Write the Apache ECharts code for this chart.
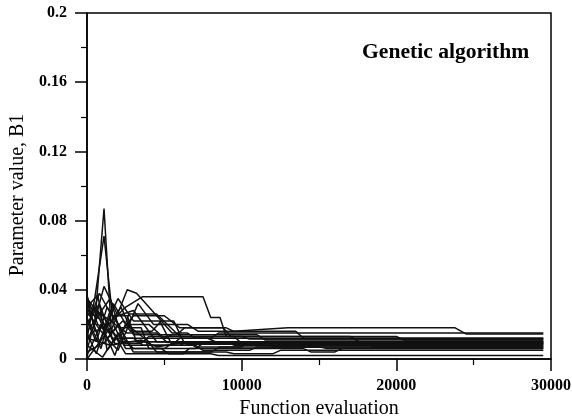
<!DOCTYPE html>
<html>
<head>
<meta charset="utf-8">
<script src="https://cdn.jsdelivr.net/npm/echarts@6/dist/echarts.min.js"></script>
<style>html,body{margin:0;padding:0;background:#fff}#c{width:572px;height:420px}</style>
</head>
<body>
<div id="c"></div>
<script>
var xTicks = [0, 10000, 20000, 30000];
var yTicks = [0, 0.04, 0.08, 0.12, 0.16, 0.2];
var titleText = 'Genetic algorithm';
var xName = 'Function evaluation';
var yName = 'Parameter value, B1';

var run1 = [[0,0.030],[500,0.020],[1100,0.087],[1600,0.012],[3000,0.012],[3600,0.008],[6000,0.008],[6600,0.010],[12000,0.010],[12500,0.008],[29500,0.008]];
var run2 = [[0,0.012],[500,0.035],[1100,0.071],[1700,0.020],[2500,0.006],[5000,0.006],[5500,0.009],[29500,0.009]];
var run3 = [[0,0.025],[600,0.030],[1200,0.018],[2500,0.030],[3600,0.036],[7500,0.036],[8000,0.024],[8600,0.024],[9000,0.013],[20000,0.013],[20500,0.011],[29500,0.011]];
var run4 = [[0,0.005],[1100,0.042],[2000,0.025],[3000,0.028],[4500,0.010],[29500,0.010]];
var run5 = [[0,0.036],[700,0.020],[1500,0.015],[2600,0.040],[3200,0.038],[4000,0.030],[5500,0.015],[6500,0.015],[7000,0.012],[29500,0.012]];
var run6 = [[0,0.020],[800,0.032],[1700,0.010],[3000,0.025],[5000,0.025],[6000,0.018],[9000,0.018],[9500,0.016],[13000,0.018],[23800,0.018],[24500,0.0145],[29500,0.0145]];
var run7 = [[0,0.030],[700,0.037],[1300,0.005],[2600,0.020],[4000,0.020],[5000,0.012],[8000,0.012],[8500,0.015],[29500,0.015]];
var run8 = [[0,0.015],[600,0.003],[1500,0.028],[2500,0.012],[3800,0.012],[4500,0.004],[8000,0.004],[8600,0.007],[15000,0.007],[15500,0.006],[29500,0.006]];
var run9 = [[0,0.033],[800,0.010],[2000,0.035],[3000,0.022],[4700,0.022],[5500,0.008],[7000,0.008],[7500,0.005],[10500,0.005],[11000,0.007],[29500,0.007]];
var run10 = [[0,0.002],[900,0.020],[1800,0.002],[2700,0.026],[4500,0.026],[6000,0.013],[9500,0.013],[10000,0.009],[29500,0.009]];
var run11 = [[0,0.022],[600,0.010],[1300,0.030],[2200,0.018],[3500,0.018],[4000,0.006],[4800,0.006],[5300,0.003],[6200,0.003],[6600,0.006],[14000,0.006],[14500,0.004],[16000,0.004],[16500,0.006],[29500,0.006]];
var run12 = [[0,0.010],[700,0.025],[1500,0.035],[2400,0.008],[5500,0.008],[6000,0.012],[7800,0.012],[8300,0.010],[29500,0.010]];
var run13 = [[0,0.027],[1000,0.015],[2000,0.005],[3300,0.032],[4300,0.020],[6500,0.020],[7200,0.016],[13500,0.016],[14000,0.012],[29500,0.012]];
var run14 = [[0,0.018],[800,0.038],[1600,0.025],[2600,0.025],[3200,0.010],[9000,0.010],[9500,0.008],[29500,0.008]];
var run15 = [[0,0.008],[1000,0.001],[2000,0.015],[3000,0.006],[7000,0.006],[7500,0.009],[18000,0.009],[18500,0.007],[29500,0.007]];
var run16 = [[0,0.035],[600,0.028],[1300,0.012],[2300,0.022],[3700,0.012],[5000,0.012],[5500,0.014],[11000,0.014],[11500,0.011],[29500,0.011]];
var run17 = [[0,0.004],[1200,0.010],[2000,0.020],[3000,0.004],[9000,0.004],[9500,0.003],[12000,0.003],[12500,0.005],[29500,0.005]];
var run18 = [[0,0.024],[900,0.006],[1700,0.032],[2800,0.016],[4200,0.016],[4800,0.022],[5600,0.022],[6300,0.009],[29500,0.009]];
var run19 = [[0,0.012],[1500,0.008],[3500,0.011],[4500,0.007],[6500,0.010],[7000,0.007],[10000,0.007],[10500,0.010],[11500,0.010],[12000,0.007],[29500,0.007]];
var run20 = [[0,0.037],[500,0.016],[1400,0.020],[2200,0.030],[3000,0.014],[5800,0.014],[6300,0.018],[8800,0.018],[9300,0.013],[17000,0.013],[17600,0.010],[29500,0.010]];
var run21 = [[0,0.000],[1500,0.018],[2500,0.003],[8000,0.003],[8500,0.002],[29500,0.002]];
var run22 = [[0,0.028],[1000,0.022],[1800,0.009],[3500,0.009],[4000,0.013],[10000,0.013],[10500,0.0115],[29500,0.0115]];
var run23 = [[0,0.016],[900,0.027],[2100,0.010],[6000,0.010],[6500,0.0085],[29500,0.0085]];
var run24 = [[0,0.031],[1200,0.024],[2600,0.015],[4500,0.015],[5200,0.0095],[29500,0.0095]];

var runs = [run1,run2,run3,run4,run5,run6,run7,run8,run9,run10,run11,run12,run13,run14,run15,run16,run17,run18,run19,run20,run21,run22,run23,run24];

var serif = '"Liberation Serif", "DejaVu Serif", serif';
var chart = echarts.init(document.getElementById('c'), null, {renderer: 'canvas'});
var series = runs.map(function (r) {
  return {
    type: 'line', data: r, symbol: 'none', animation: false,
    lineStyle: {color: '#111', width: 1.5}
  };
});
chart.setOption({
  animation: false,
  backgroundColor: '#fff',
  title: {
    text: titleText, left: 362, top: 41, padding: 0,
    textStyle: {fontFamily: serif, fontWeight: 'bold', fontSize: 21.6, color: '#000'}
  },
  grid: {left: 87, right: 21, top: 13, bottom: 61, containLabel: false, outerBoundsMode: 'none',
    show: true, borderColor: '#000', borderWidth: 1.5, backgroundColor: 'transparent'},
  xAxis: {
    type: 'value', min: 0, max: 30000, interval: 10000,
    name: xName, nameLocation: 'middle', nameGap: 39,
    nameTextStyle: {fontFamily: serif, fontSize: 20, color: '#000'},
    axisLine: {show: true, lineStyle: {color: '#000', width: 1.5}},
    axisTick: {show: true, length: 12, lineStyle: {color: '#000', width: 1.5}},
    minorTick: {show: true, splitNumber: 2, length: 6, lineStyle: {color: '#000', width: 1.2}},
    axisLabel: {margin: 19, fontFamily: serif, fontWeight: 'bold', fontSize: 16, color: '#000',
      formatter: function (v) { return xTicks.indexOf(v) >= 0 ? String(v) : ''; }},
    splitLine: {show: false}
  },
  yAxis: {
    type: 'value', min: 0, max: 0.2, interval: 0.04,
    name: yName, nameLocation: 'middle', nameGap: 56,
    nameTextStyle: {fontFamily: serif, fontSize: 20, color: '#000', padding: [0, 18, 0, 0]},
    axisLine: {show: true, lineStyle: {color: '#000', width: 1.5}},
    axisTick: {show: true, length: 12, lineStyle: {color: '#000', width: 1.5}},
    minorTick: {show: true, splitNumber: 2, length: 6, lineStyle: {color: '#000', width: 1.2}},
    axisLabel: {margin: 20, fontFamily: serif, fontWeight: 'bold', fontSize: 16, color: '#000',
      formatter: function (v) {
        for (var i = 0; i < yTicks.length; i++) if (Math.abs(yTicks[i] - v) < 1e-9) return String(yTicks[i]);
        return '';
      }},
    splitLine: {show: false}
  },
  series: series
});
</script>
</body>
</html>
